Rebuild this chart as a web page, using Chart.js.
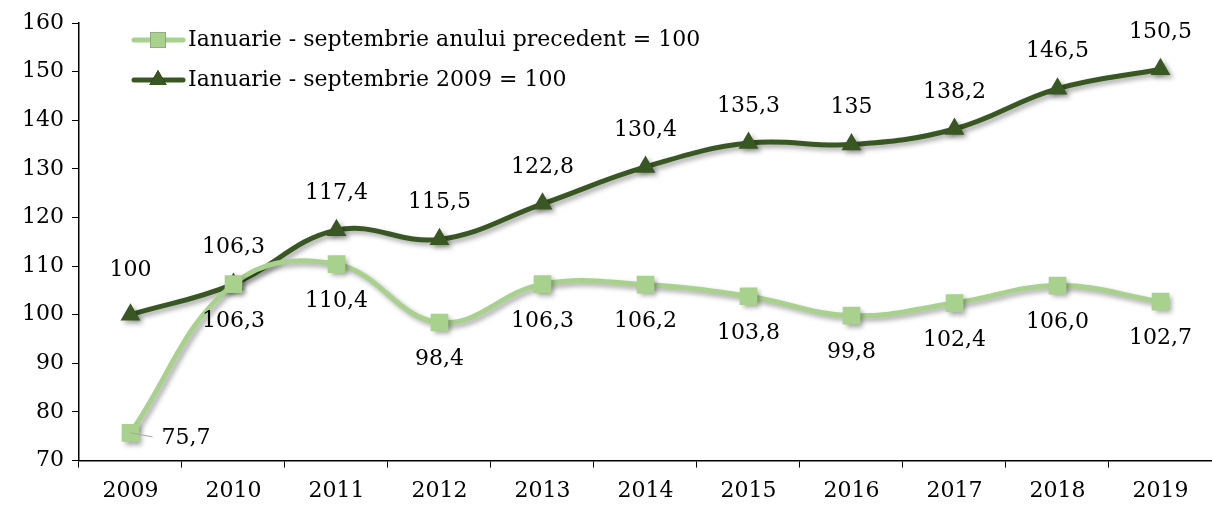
<!DOCTYPE html>
<html>
<head>
<meta charset="utf-8">
<script src="https://cdn.jsdelivr.net/npm/chart.js@4"></script>
<style>
    html, body { margin: 0; padding: 0; background: #ffffff; }
    #wrap { width: 1212px; height: 506px; }
</style>
</head>
<body>
<div id="wrap"><canvas id="chart" width="1212" height="506"></canvas></div>
<script>
const years = ["2009", "2010", "2011", "2012", "2013", "2014", "2015", "2016", "2017", "2018", "2019"];
const prevYearValues = [75.7, 106.3, 110.4, 98.4, 106.3, 106.2, 103.8, 99.8, 102.4, 106.0, 102.7];
const base2009Values = [100, 106.3, 117.4, 115.5, 122.8, 130.4, 135.3, 135, 138.2, 146.5, 150.5];
const seriesNames = ["Ianuarie - septembrie anului precedent = 100", "Ianuarie - septembrie 2009 = 100"];

const FONT = "'DejaVu Serif', serif";
const FONT_SIZE = 22;
const LIGHT = "#a9d18e";
const DARK = "#385723";

// label text: light series always one decimal, dark series as is
function fmt(v, fixed)
{
    const s = fixed ? v.toFixed(1) : String(v);
    return s.replace(".", ",");
}

// line shadow like the office chart
const shadowPlugin = {
    id: "shadow",
    beforeDatasetDraw: function(chart)
    {
        const ctx = chart.ctx;
        ctx.save();
        ctx.shadowColor = "rgba(0,0,0,0.35)";
        ctx.shadowBlur = 5;
        ctx.shadowOffsetX = 3;
        ctx.shadowOffsetY = 3;
    },
    afterDatasetDraw: function(chart)
    {
        chart.ctx.restore();
    }
};

// value labels
const labelPlugin = {
    id: "valueLabels",
    afterDatasetsDraw: function(chart)
    {
        const ctx = chart.ctx;
        ctx.save();
        ctx.font = FONT_SIZE + "px " + FONT;
        ctx.fillStyle = "#000000";
        ctx.textAlign = "center";
        ctx.textBaseline = "middle";

        const light = chart.getDatasetMeta(0).data;
        light.forEach(function(pt, i)
        {
            const txt = fmt(prevYearValues[i], true);
            if (i === 0)
            {
                // leader line to the right
                ctx.strokeStyle = "#a6a6a6";
                ctx.lineWidth = 1;
                ctx.beginPath();
                ctx.moveTo(pt.x, pt.y);
                ctx.lineTo(pt.x + 22, pt.y + 4);
                ctx.stroke();
                ctx.textAlign = "left";
                ctx.fillText(txt, pt.x + 31, pt.y + 5);
                ctx.textAlign = "center";
            }
            else
            {
                ctx.fillText(txt, pt.x, pt.y + 37);
            }
        });

        const dark = chart.getDatasetMeta(1).data;
        dark.forEach(function(pt, i)
        {
            const dy = i === 0 ? -44 : -37;
            ctx.fillText(fmt(base2009Values[i], false), pt.x, pt.y + dy);
        });
        ctx.restore();
    }
};

// legend drawn inside the plot, top left
const legendPlugin = {
    id: "innerLegend",
    afterDraw: function(chart)
    {
        const ctx = chart.ctx;
        const items = [
            { text: seriesNames[0], color: LIGHT, style: "rect" },
            { text: seriesNames[1], color: DARK, style: "triangle" }
        ];
        ctx.save();
        ctx.font = FONT_SIZE + "px " + FONT;
        ctx.textBaseline = "middle";
        items.forEach(function(it, k)
        {
            const y = 40 + k * 40;
            ctx.strokeStyle = it.color;
            ctx.lineWidth = 5;
            ctx.lineCap = "round";
            ctx.beginPath();
            ctx.moveTo(134, y);
            ctx.lineTo(183, y);
            ctx.stroke();
            Chart.helpers.drawPoint(ctx, {
                pointStyle: it.style,
                radius: it.style === "rect" ? 11 : 10,
                borderWidth: 0,
                rotation: 0
            }, 158, y);
            ctx.fillStyle = it.color;
            ctx.fill();
            ctx.fillStyle = "#000000";
            ctx.fillText(it.text, 188, y);
        });
        ctx.restore();
    }
};

new Chart(document.getElementById("chart").getContext("2d"),
{
    type: "line",
    data:
    {
        labels: years,
        datasets: [
            {
                label: seriesNames[0],
                data: prevYearValues,
                borderColor: LIGHT,
                backgroundColor: LIGHT,
                borderWidth: 5,
                tension: 0.4,
                pointStyle: "rect",
                pointRadius: 12.5,
                pointBorderWidth: 0,
                pointBackgroundColor: LIGHT,
                fill: false
            },
            {
                label: seriesNames[1],
                data: base2009Values,
                borderColor: DARK,
                backgroundColor: DARK,
                borderWidth: 5,
                tension: 0.4,
                pointStyle: "triangle",
                pointRadius: 11.5,
                pointBorderWidth: 0,
                pointBackgroundColor: DARK,
                fill: false
            }
        ]
    },
    options:
    {
        responsive: false,
        animation: false,
        layout: { autoPadding: false, padding: { top: 23, right: -3, bottom: -8, left: 14 } },
        plugins:
        {
            legend: { display: false },
            tooltip: { enabled: false }
        },
        scales:
        {
            y:
            {
                min: 70,
                max: 160,
                ticks:
                {
                    stepSize: 10,
                    color: "#000000",
                    font: { family: FONT, size: FONT_SIZE },
                    padding: 8
                },
                grid: { drawOnChartArea: false, tickLength: 7, color: "#000000" },
                border: { color: "#000000", width: 1.5 }
            },
            x:
            {
                offset: true,
                ticks:
                {
                    color: "#000000",
                    font: { family: FONT, size: FONT_SIZE },
                    padding: 10
                },
                grid: { drawOnChartArea: false, offset: true, tickLength: 7, color: "#000000" },
                border: { color: "#000000", width: 1.5 }
            }
        }
    },
    plugins: [shadowPlugin, labelPlugin, legendPlugin]
});
</script>
</body>
</html>
